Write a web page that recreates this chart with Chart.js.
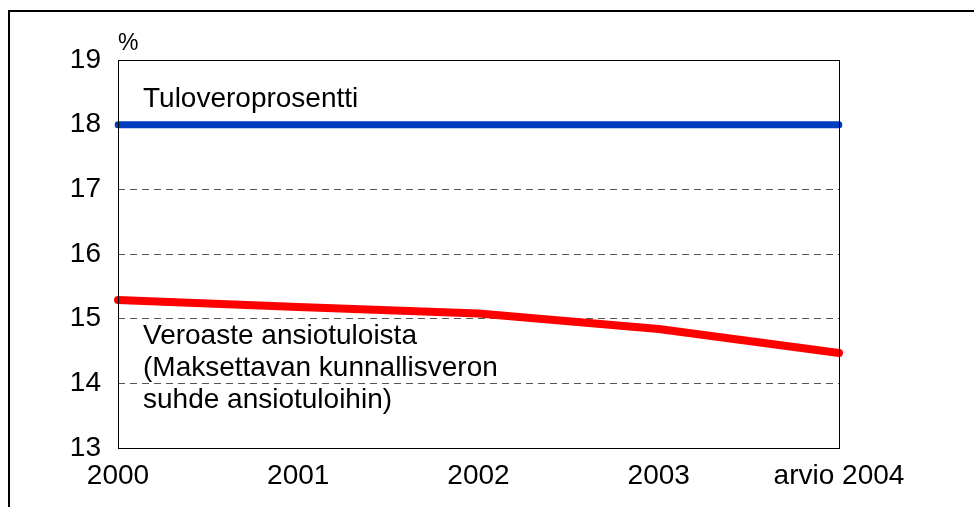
<!DOCTYPE html>
<html>
<head>
<meta charset="utf-8">
<script src="https://cdn.jsdelivr.net/npm/chart.js@4.4.0/dist/chart.umd.min.js"></script>
<style>
    html, body { margin: 0; padding: 0; background: #fff; }
    #wrap { width: 974px; height: 507px; }
</style>
</head>
<body>
<div id="wrap"><canvas id="taxChart" width="974" height="507"></canvas></div>
<script>
// Data
const years = ['2000', '2001', '2002', '2003', 'arvio 2004'];
const incomeTaxRate = [18, 18, 18, 18, 18];
const effectiveRate = [15.29, 15.18, 15.08, 14.84, 14.47];
const yTicks = [13, 14, 15, 16, 17, 18, 19];

const FONT = "'Liberation Sans', Arial, sans-serif";

// Frame, plot border, unit and series labels
const decorations = {
    id: 'decorations',
    beforeDraw(chart) {
        const c = chart.ctx;
        c.save();
        c.strokeStyle = '#000';
        c.lineWidth = 2;
        c.strokeRect(9, 11, 1000, 600);
        c.restore();
    },
    afterDatasetsDraw(chart) {
        const c = chart.ctx;
        const a = chart.chartArea;
        const x = chart.scales.x;
        const y = chart.scales.y;
        c.save();
        c.strokeStyle = '#000';
        c.lineWidth = 1;
        c.strokeRect(a.left + 0.5, a.top + 0.5, a.right - a.left, a.bottom - a.top);

        c.fillStyle = '#000';
        c.textBaseline = 'alphabetic';
        c.textAlign = 'left';
        c.font = '23px ' + FONT;
        c.fillText('%', a.left, a.top - 10);

        c.font = '28px ' + FONT;
        const tx = x.getPixelForValue(0) + 25;
        c.fillText('Tuloveroprosentti', tx, y.getPixelForValue(18.28));
        c.fillText('Veroaste ansiotuloista', tx, y.getPixelForValue(14.61));
        c.fillText('(Maksettavan kunnallisveron', tx, y.getPixelForValue(14.11));
        c.fillText('suhde ansiotuloihin)', tx, y.getPixelForValue(13.62));
        c.restore();
    }
};

new Chart(document.getElementById('taxChart'), {
    type: 'line',
    data: {
        labels: years,
        datasets: [{
            label: 'Tuloveroprosentti',
            data: incomeTaxRate,
            borderColor: '#003cbe',
            borderWidth: 7,
            borderCapStyle: 'round',
            pointRadius: 0,
            tension: 0
        }, {
            label: 'Veroaste ansiotuloista',
            data: effectiveRate,
            borderColor: '#ff0000',
            borderWidth: 8,
            borderCapStyle: 'round',
            borderJoinStyle: 'round',
            pointRadius: 0,
            tension: 0
        }]
    },
    options: {
        responsive: false,
        animation: false,
        events: [],
        layout: { padding: { left: 0, top: 60, right: 135, bottom: 14 } },
        plugins: {
            legend: { display: false },
            tooltip: { enabled: false }
        },
        scales: {
            x: {
                offset: false,
                grid: { display: false, drawTicks: false },
                border: { display: false },
                ticks: {
                    color: '#000',
                    font: { family: FONT, size: 28 },
                    padding: 11,
                    maxRotation: 0,
                    autoSkip: false
                },
                afterFit(scale) { scale.height = 45; }
            },
            y: {
                min: 13,
                max: 19,
                afterBuildTicks(scale) {
                    scale.ticks = yTicks.map(v => ({ value: v }));
                },
                grid: {
                    drawTicks: false,
                    color: ctx => (ctx.tick.value === 13 || ctx.tick.value === 19) ? 'rgba(0,0,0,0)' : '#555',
                    lineWidth: 1
                },
                border: { display: false, dash: [7, 5] },
                ticks: {
                    color: '#000',
                    font: { family: FONT, size: 28 },
                    padding: 17
                },
                afterFit(scale) { scale.width = 118; }
            }
        }
    },
    plugins: [decorations]
});
</script>
</body>
</html>
